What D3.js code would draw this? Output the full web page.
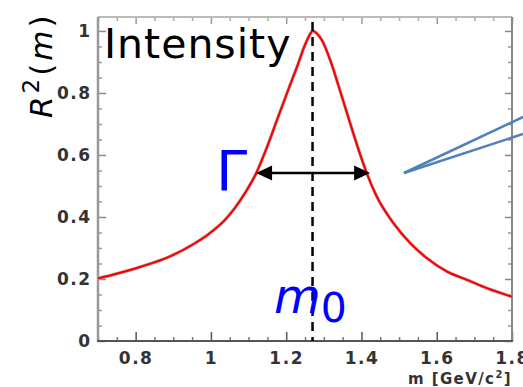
<!DOCTYPE html>
<html><head><meta charset="utf-8">
<script src="https://cdn.jsdelivr.net/npm/d3@7"></script>
<style>body{margin:0;background:#fff;overflow:hidden;} svg{display:block;}</style>
</head><body>
<script>
// ---- data ----
const massValues = [0.700, 0.753, 0.815, 0.886, 0.957, 0.993, 1.037, 1.063, 1.090, 1.120, 1.149, 1.175, 1.202, 1.229, 1.251, 1.262, 1.270, 1.282, 1.295, 1.317, 1.344, 1.370, 1.397, 1.413, 1.441, 1.485, 1.530, 1.574, 1.627, 1.681, 1.734, 1.800];
const intensityValues = [0.202, 0.218, 0.240, 0.270, 0.315, 0.344, 0.390, 0.428, 0.476, 0.540, 0.625, 0.711, 0.799, 0.885, 0.958, 0.986, 1.000, 0.991, 0.970, 0.906, 0.804, 0.702, 0.600, 0.545, 0.465, 0.380, 0.315, 0.267, 0.224, 0.197, 0.170, 0.143];
const xMajorTicks = [0.8, 1.0, 1.2, 1.4, 1.6, 1.8];
const xTickLabels = ["0.8", "1", "1.2", "1.4", "1.6", "1.8"];
const yMajorTicks = [0, 0.2, 0.4, 0.6, 0.8, 1.0];
const yTickLabels = ["0", "0.2", "0.4", "0.6", "0.8", "1"];
const peakMass = 1.27;
const halfWidthEnds = [1.12, 1.423];
const arrowLevel = 0.542;
const xDomain = [0.7, 1.8];
const yDomain = [0, 1.045];

const W = 523, H = 387;
const svg = d3.select("body").append("svg").attr("width", W).attr("height", H);

const x = d3.scaleLinear().domain(xDomain).range([98, 512]);
const y = d3.scaleLinear().domain(yDomain).range([341, 17]);

const xMinor = d3.range(0.7, 1.8001, 0.05).filter(v => !xMajorTicks.some(t => Math.abs(t - v) < 1e-6));
const yMinor = d3.range(0, 1.0451, 0.05).filter(v => !yMajorTicks.some(t => Math.abs(t - v) < 1e-6));

const fmtX = v => xTickLabels[xMajorTicks.findIndex(t => Math.abs(t - v) < 1e-6)];
const fmtY = v => yTickLabels[yMajorTicks.findIndex(t => Math.abs(t - v) < 1e-6)];

function styleAxis(g, color) {
  g.select(".domain").remove();
  g.selectAll(".tick line").attr("stroke", color).attr("stroke-width", 1.5);
  g.selectAll("text").attr("font-family", "DejaVu Sans").attr("font-weight", "bold")
    .attr("font-size", 17).attr("letter-spacing", 1.5).attr("fill", "#333");
}

// minor ticks
svg.append("g").attr("transform", "translate(0,341)")
  .call(d3.axisBottom(x).tickValues(xMinor).tickSize(-4).tickFormat(""))
  .call(g => styleAxis(g, "#777"));
svg.append("g").attr("transform", "translate(0,17)")
  .call(d3.axisTop(x).tickValues(xMinor).tickSize(-4).tickFormat(""))
  .call(g => styleAxis(g, "#aaa"));
svg.append("g").attr("transform", "translate(98,0)")
  .call(d3.axisLeft(y).tickValues(yMinor).tickSize(-4).tickFormat(""))
  .call(g => styleAxis(g, "#999"));
svg.append("g").attr("transform", "translate(512,0)")
  .call(d3.axisRight(y).tickValues(yMinor).tickSize(-4).tickFormat(""))
  .call(g => styleAxis(g, "#999"));

// major ticks + labels
svg.append("g").attr("transform", "translate(0,341)")
  .call(d3.axisBottom(x).tickValues(xMajorTicks).tickSize(-9).tickPadding(11).tickFormat(fmtX))
  .call(g => styleAxis(g, "#555"));
svg.append("g").attr("transform", "translate(0,17)")
  .call(d3.axisTop(x).tickValues(xMajorTicks).tickSize(-7).tickFormat(""))
  .call(g => styleAxis(g, "#999"));
svg.append("g").attr("transform", "translate(98,0)")
  .call(d3.axisLeft(y).tickValues(yMajorTicks).tickSize(-8).tickPadding(6.5).tickFormat(fmtY))
  .call(g => styleAxis(g, "#888"));
svg.append("g").attr("transform", "translate(512,0)")
  .call(d3.axisRight(y).tickValues(yMajorTicks).tickSize(-7).tickFormat(""))
  .call(g => styleAxis(g, "#888"));

// frame lines
svg.append("line").attr("x1", x(xDomain[0])).attr("x2", x(xDomain[1])).attr("y1", y(yDomain[1])).attr("y2", y(yDomain[1]))
  .attr("stroke", "#bbb").attr("stroke-width", 2);
svg.append("line").attr("x1", x(xDomain[1])).attr("x2", x(xDomain[1])).attr("y1", y(yDomain[1])).attr("y2", y(0))
  .attr("stroke", "#888").attr("stroke-width", 2);
svg.append("line").attr("x1", x(xDomain[0])).attr("x2", x(xDomain[0])).attr("y1", y(yDomain[1])).attr("y2", y(0))
  .attr("stroke", "#999").attr("stroke-width", 2.5);
svg.append("line").attr("x1", x(xDomain[0]) - 1).attr("x2", x(xDomain[1]) + 1).attr("y1", y(0)).attr("y2", y(0))
  .attr("stroke", "#555").attr("stroke-width", 2);

// curve
const pts = massValues.map((m, i) => [m, intensityValues[i]]);
const line = d3.line().x(d => x(d[0])).y(d => y(d[1])).curve(d3.curveMonotoneX);
svg.append("path").attr("d", line(pts)).attr("fill", "none").attr("stroke", "#bbb").attr("stroke-width", 3.4);
svg.append("path").attr("d", line(pts)).attr("fill", "none").attr("stroke", "#ff0000").attr("stroke-width", 2.2);

// dashed m0 line
svg.append("line").attr("x1", x(peakMass)).attr("x2", x(peakMass)).attr("y1", 22).attr("y2", y(0))
  .attr("stroke", "#000").attr("stroke-width", 2.5).attr("stroke-dasharray", "9,6");

// double arrow
const ax1 = x(halfWidthEnds[0]), ax2 = x(halfWidthEnds[1]), ay = y(arrowLevel);
svg.append("line").attr("x1", ax1 + 10).attr("x2", ax2 - 10).attr("y1", ay).attr("y2", ay)
  .attr("stroke", "#000").attr("stroke-width", 2.5);
svg.append("path").attr("d", `M${ax1},${ay} L${ax1 + 16},${ay - 7.5} L${ax1 + 16},${ay + 7.5} Z`).attr("fill", "#000");
svg.append("path").attr("d", `M${ax2},${ay} L${ax2 - 16},${ay - 7.5} L${ax2 - 16},${ay + 7.5} Z`).attr("fill", "#000");

// callout lines
const calloutStart = [404, 173];
[[523, 117], [523, 134]].forEach(e => {
  svg.append("line").attr("x1", calloutStart[0]).attr("y1", calloutStart[1]).attr("x2", e[0]).attr("y2", e[1])
    .attr("stroke", "#4f81bd").attr("stroke-width", 2.5);
});

// texts
svg.append("text").attr("x", 104).attr("y", 58).attr("font-family", "DejaVu Sans").attr("font-size", 41)
  .attr("letter-spacing", 1).attr("fill", "#000").text("Intensity");

svg.append("text").attr("x", 216).attr("y", 190).attr("font-family", "DejaVu Sans").attr("font-size", 56)
  .attr("fill", "#0000ff").text("Γ");

const m0 = svg.append("text").attr("x", 274).attr("y", 313).attr("font-family", "DejaVu Sans").attr("fill", "#0000ff");
m0.append("tspan").attr("font-size", 48).attr("font-style", "italic").text("m");
m0.append("tspan").attr("font-size", 41).attr("dy", 9).text("0");

const yt = svg.append("text").attr("transform", "translate(52,118) rotate(-90)")
  .attr("font-family", "DejaVu Sans").attr("font-size", 31).attr("letter-spacing", 3).attr("fill", "#000");
yt.append("tspan").attr("font-style", "italic").text("R");
yt.append("tspan").attr("font-size", 23).attr("dy", -13).text("2");
yt.append("tspan").attr("dy", 13).text("(");
yt.append("tspan").attr("font-style", "italic").text("m");
yt.append("tspan").text(")");

const xt = svg.append("text").attr("x", 512).attr("y", 384).attr("text-anchor", "end")
  .attr("font-family", "DejaVu Sans").attr("font-weight", "bold").attr("font-size", 15)
  .attr("letter-spacing", 1.4).attr("fill", "#333");
xt.append("tspan").text("m [GeV/c");
xt.append("tspan").attr("font-size", 10).attr("dy", -6).text("2");
xt.append("tspan").attr("dy", 6).text("]");
</script>
</body></html>
